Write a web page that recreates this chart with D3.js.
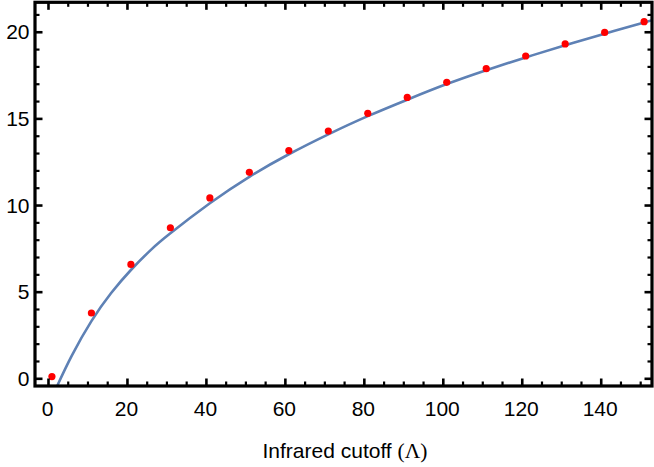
<!DOCTYPE html>
<html>
<head>
<meta charset="utf-8">
<script src="https://cdn.jsdelivr.net/npm/d3@7"></script>
<style>
  html, body { margin: 0; padding: 0; background: #fff; }
  svg { display: block; }
</style>
</head>
<body>
<div id="chart"></div>
<script>
// measured points (red dots)
const cutoffs = [1, 11, 21, 31, 41, 51, 61, 71, 81, 91, 101, 111, 121, 131, 141, 151];
const measured = [0.1, 3.77, 6.57, 8.69, 10.41, 11.89, 13.14, 14.27, 15.29, 16.21, 17.08, 17.87, 18.6, 19.3, 19.96, 20.58];

// fitted curve
const fitX = [2.4, 6, 11, 16, 21, 26, 31, 41, 51, 61, 71, 81, 91, 101, 111, 121, 131, 141, 151, 154];
const fitY = [-0.4, 1.3, 3.3, 4.92, 6.25, 7.4, 8.37, 10.1, 11.63, 12.93, 14.08, 15.13, 16.08, 16.98, 17.78, 18.52, 19.22, 19.89, 20.54, 20.72];

const xMajor = [0, 20, 40, 60, 80, 100, 120, 140];
const xMinor = [5, 10, 15, 25, 30, 35, 45, 50, 55, 65, 70, 75, 85, 90, 95, 105, 110, 115, 125, 130, 135, 145, 150];
const yMajor = [0, 5, 10, 15, 20];
const yMinor = [1, 2, 3, 4, 6, 7, 8, 9, 11, 12, 13, 14, 16, 17, 18, 19, 21];

const xTitle = "Infrared cutoff ";
const xTitleSym = "(\u039B)";

const width = 654, height = 467;
const frame = { left: 35, right: 652, top: 2.3, bottom: 386 };

const x = d3.scaleLinear().domain([-3.29, 152.99]).range([frame.left, frame.right]);
const y = d3.scaleLinear().domain([-0.444, 21.7]).range([frame.bottom, frame.top]);

const svg = d3.select("#chart").append("svg")
    .attr("width", width)
    .attr("height", height);

svg.append("clipPath").attr("id", "plot-clip")
  .append("rect")
    .attr("x", frame.left).attr("y", frame.top)
    .attr("width", frame.right - frame.left).attr("height", frame.bottom - frame.top);

// fit curve
const line = d3.line()
    .x(d => x(d[0]))
    .y(d => y(d[1]))
    .curve(d3.curveNatural);

svg.append("path")
    .datum(fitX.map((v, i) => [v, fitY[i]]))
    .attr("clip-path", "url(#plot-clip)")
    .attr("fill", "none")
    .attr("stroke", "#5E81B5")
    .attr("stroke-width", 2.6)
    .attr("d", line);

// points
svg.append("g")
  .selectAll("circle")
  .data(cutoffs)
  .join("circle")
    .attr("cx", d => x(d))
    .attr("cy", (d, i) => y(measured[i]))
    .attr("r", 3.6)
    .attr("fill", "#FF0000");

// frame axes, ticks pointing inward
const font = "'Liberation Sans', Arial, sans-serif";
const fontSize = 21;

function tickAxis(axisFn, scale, values, size, sw, tx) {
  const g = svg.append("g")
      .attr("transform", tx)
      .call(axisFn(scale).tickValues(values).tickSize(-size).tickFormat(""));
  g.select(".domain").remove();
  g.selectAll(".tick line").attr("stroke", "#000").attr("stroke-width", sw);
  return g;
}

[[d3.axisBottom, `translate(0,${frame.bottom})`], [d3.axisTop, `translate(0,${frame.top})`]].forEach(([fn, tx]) => {
  tickAxis(fn, x, xMajor, 7.5, 2.6, tx);
  tickAxis(fn, x, xMinor, 4.5, 2.2, tx);
});
[[d3.axisLeft, `translate(${frame.left},0)`], [d3.axisRight, `translate(${frame.right},0)`]].forEach(([fn, tx]) => {
  tickAxis(fn, y, yMajor, 7.5, 2.6, tx);
  tickAxis(fn, y, yMinor, 4.5, 2.2, tx);
});

svg.append("rect")
    .attr("x", frame.left).attr("y", frame.top)
    .attr("width", frame.right - frame.left).attr("height", frame.bottom - frame.top)
    .attr("fill", "none")
    .attr("stroke", "#000")
    .attr("stroke-width", 3.2);

// tick labels
svg.append("g")
  .selectAll("text")
  .data(xMajor)
  .join("text")
    .attr("x", d => x(d) - 0.5)
    .attr("y", 416)
    .attr("text-anchor", "middle")
    .attr("font-family", font)
    .attr("font-size", fontSize)
    .text(d => d);

svg.append("g")
  .selectAll("text")
  .data(yMajor)
  .join("text")
    .attr("x", 29.5)
    .attr("y", d => y(d))
    .attr("dy", "0.36em")
    .attr("text-anchor", "end")
    .attr("font-family", font)
    .attr("font-size", fontSize)
    .text(d => d);

// axis title
const title = svg.append("text")
    .attr("x", 345)
    .attr("y", 458)
    .attr("text-anchor", "middle")
    .attr("font-family", font)
    .attr("font-size", fontSize);
title.append("tspan").text(xTitle);
title.append("tspan")
    .attr("font-family", "'Liberation Serif', 'Times New Roman', serif")
    .attr("font-size", 21.5)
    .text(xTitleSym);
</script>
</body>
</html>
